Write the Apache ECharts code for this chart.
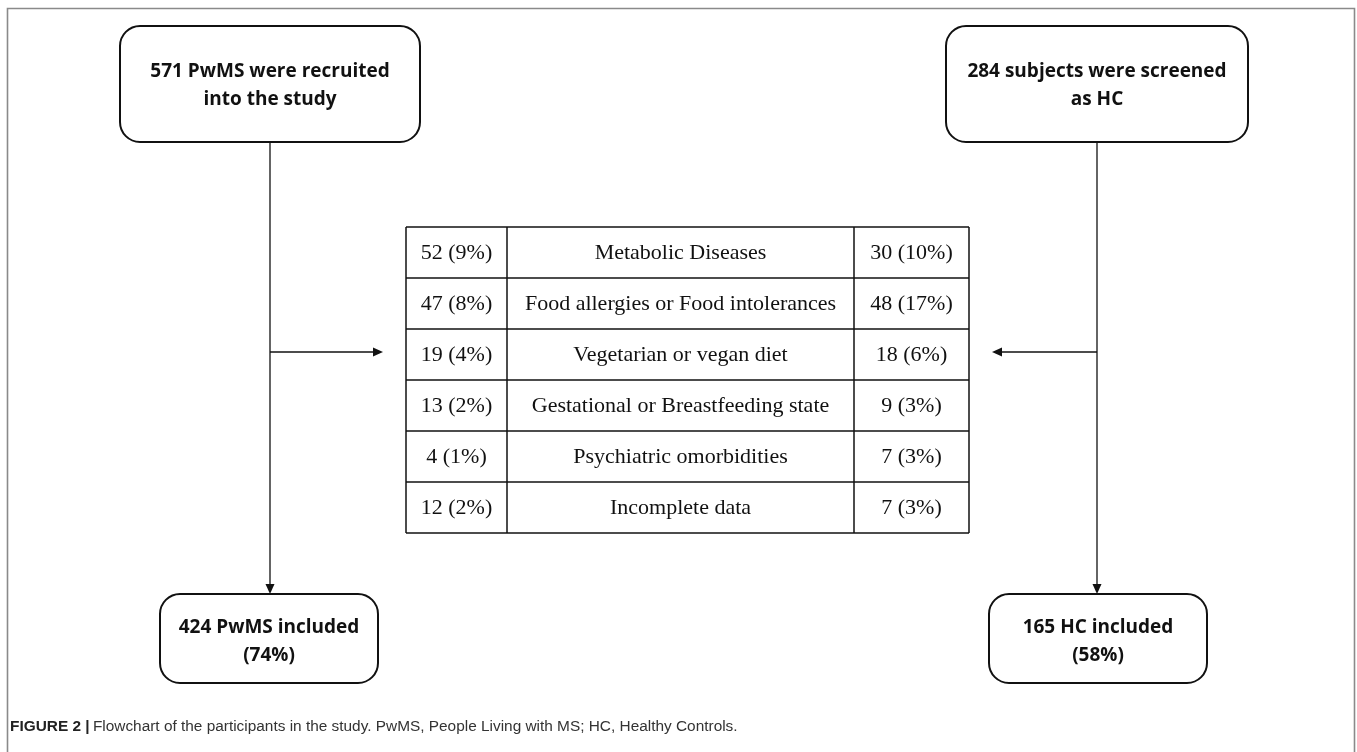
<!DOCTYPE html>
<html>
<head>
<meta charset="utf-8">
<script src="https://cdn.jsdelivr.net/npm/echarts@6/dist/echarts.min.js"></script>
<style>
  html, body { margin: 0; padding: 0; background: #fff; }
  #chart { width: 1357px; height: 752px; }
</style>
</head>
<body>
<div id="chart"></div>
<script>
// flowchart content
const sourceBoxes = ['571 PwMS were recruited\ninto the study', '284 subjects were screened\nas HC']
const includedBoxes = ['424 PwMS included\n(74%)', '165 HC included\n(58%)']
const reasons = [
  'Metabolic Diseases',
  'Food allergies or Food intolerances',
  'Vegetarian or vegan diet',
  'Gestational or Breastfeeding state',
  'Psychiatric omorbidities',
  'Incomplete data'
]
const pwmsExcluded = ['52 (9%)', '47 (8%)', '19 (4%)', '13 (2%)', '4 (1%)', '12 (2%)']
const hcExcluded = ['30 (10%)', '48 (17%)', '18 (6%)', '9 (3%)', '7 (3%)', '7 (3%)']
const captionBold = 'FIGURE 2 |'
const captionText = 'Flowchart of the participants in the study. PwMS, People Living with MS; HC, Healthy Controls.'

const chart = echarts.init(document.getElementById('chart'))

const boxFont = '"Open Sans", "DejaVu Sans", sans-serif'
const tableFont = '"Liberation Serif", "DejaVu Serif", serif'
const lineStyle = { stroke: '#111', lineWidth: 1.3 }

// layout
const colX = [270, 1097]
const topBox = [{ x: 120, w: 300 }, { x: 946, w: 302 }]
const topY = 26, topH = 116
const botBox = [{ x: 160, w: 218 }, { x: 989, w: 218 }]
const botY = 594, botH = 89
const arrowY = 352
const tbl = { left: 406, right: 969, c1: 507, c2: 854, top: 227, rowH: 51 }

function roundBox(b, y, h, label, dy) {
  return [
    {
      type: 'rect',
      shape: { x: b.x, y: y, width: b.w, height: h, r: 20 },
      style: { fill: '#fff', stroke: '#111', lineWidth: 2 }
    },
    {
      type: 'text',
      x: b.x + b.w / 2,
      y: y + h / 2 + dy,
      style: {
        text: label,
        align: 'center',
        verticalAlign: 'middle',
        font: 'bold 19px ' + boxFont,
        lineHeight: 28,
        fill: '#111'
      }
    }
  ]
}

function arrowHead(x, y, dir) {
  let pts
  if (dir === 'down') pts = [[x - 4.5, y - 10], [x + 4.5, y - 10], [x, y]]
  else if (dir === 'right') pts = [[x - 10, y - 4.5], [x - 10, y + 4.5], [x, y]]
  else pts = [[x + 10, y - 4.5], [x + 10, y + 4.5], [x, y]]
  return { type: 'polygon', shape: { points: pts }, style: { fill: '#111' } }
}

const elements = []

// figure frame
elements.push({
  type: 'polyline',
  shape: { points: [[7.5, 752], [7.5, 8.5], [1354.5, 8.5], [1354.5, 752]] },
  style: { stroke: '#8a8a8a', lineWidth: 1.6, fill: null }
})

// connectors
colX.forEach(x => {
  elements.push({ type: 'line', shape: { x1: x, y1: topY + topH, x2: x, y2: botY - 6 }, style: lineStyle })
  elements.push(arrowHead(x, botY, 'down'))
})
elements.push({ type: 'line', shape: { x1: colX[0], y1: arrowY, x2: 377, y2: arrowY }, style: lineStyle })
elements.push(arrowHead(383, arrowY, 'right'))
elements.push({ type: 'line', shape: { x1: colX[1], y1: arrowY, x2: 998, y2: arrowY }, style: lineStyle })
elements.push(arrowHead(992, arrowY, 'left'))

// boxes
sourceBoxes.forEach((t, i) => elements.push(...roundBox(topBox[i], topY, topH, t, 2)))
includedBoxes.forEach((t, i) => elements.push(...roundBox(botBox[i], botY, botH, t, 3)))

// exclusion table
const tblBottom = tbl.top + tbl.rowH * reasons.length
const tblLine = { stroke: '#111', lineWidth: 1.5 }
for (let r = 0; r <= reasons.length; r++) {
  const y = tbl.top + tbl.rowH * r
  elements.push({ type: 'line', shape: { x1: tbl.left, y1: y, x2: tbl.right, y2: y }, style: tblLine })
}
;[tbl.left, tbl.c1, tbl.c2, tbl.right].forEach(x => {
  elements.push({ type: 'line', shape: { x1: x, y1: tbl.top, x2: x, y2: tblBottom }, style: tblLine })
})
reasons.forEach((reason, r) => {
  const cy = tbl.top + tbl.rowH * (r + 0.5) + 1
  const cells = [
    [(tbl.left + tbl.c1) / 2, pwmsExcluded[r]],
    [(tbl.c1 + tbl.c2) / 2, reason],
    [(tbl.c2 + tbl.right) / 2, hcExcluded[r]]
  ]
  cells.forEach(([cx, t]) => {
    elements.push({
      type: 'text',
      x: cx,
      y: cy,
      style: {
        text: t,
        align: 'center',
        verticalAlign: 'middle',
        font: '22px ' + tableFont,
        fill: '#111'
      }
    })
  })
})

// caption
elements.push({
  type: 'text',
  x: 10,
  y: 727,
  style: {
    text: '{b|' + captionBold + '} {n|' + captionText + '}',
    verticalAlign: 'middle',
    rich: {
      b: { fontFamily: '"Liberation Sans", Arial, sans-serif', fontWeight: 'bold', fontSize: 15.4, fill: '#222' },
      n: { fontFamily: '"Liberation Sans", Arial, sans-serif', fontSize: 15.4, fill: '#333' }
    }
  }
})

chart.setOption({
  backgroundColor: '#ffffff',
  animation: false,
  graphic: { elements: elements }
})
</script>
</body>
</html>
